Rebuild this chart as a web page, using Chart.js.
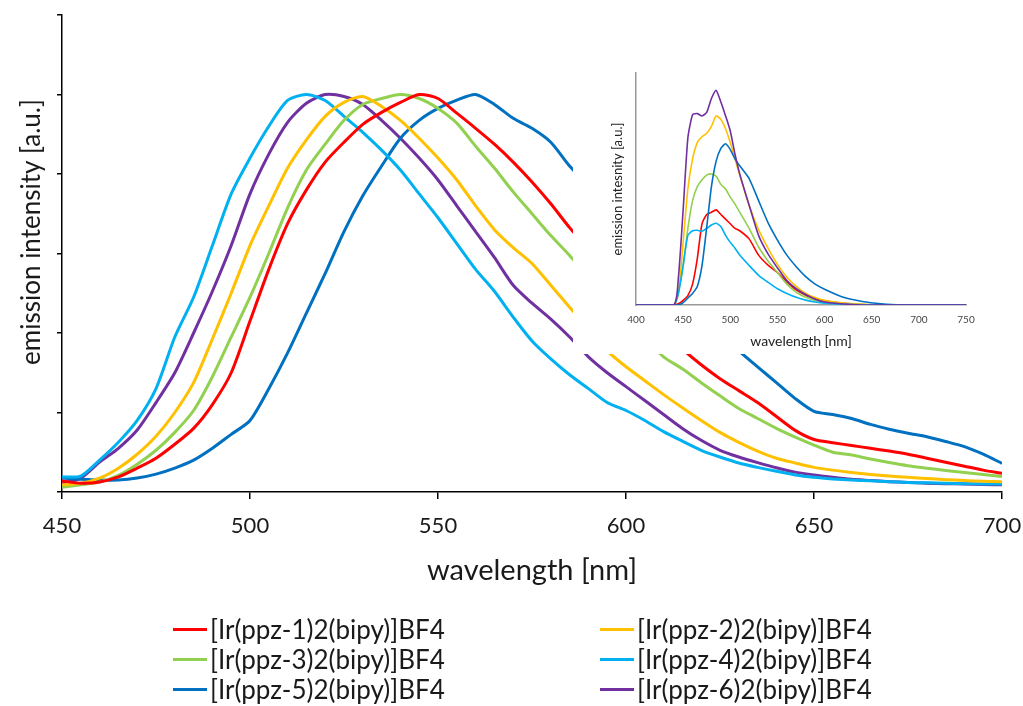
<!DOCTYPE html>
<html>
<head>
<meta charset="utf-8">
<script src="https://cdn.jsdelivr.net/npm/chart.js@4.4.0/dist/chart.umd.min.js"></script>
<style>
  html, body { margin: 0; padding: 0; background: #fff; }
  #wrap { position: relative; width: 1023px; height: 706px; overflow: hidden; font-family: Lato, sans-serif; }
  #main { position: absolute; left: 0; top: 0; }
  #insetBox { position: absolute; left: 573px; top: 50px; width: 437px; height: 304px; background: #fff; }
  .leg { position: absolute; height: 30px; display: flex; align-items: center; font-size: 26px; color: #1a1a1a; white-space: nowrap; }
  .leg i { display: inline-block; width: 34px; height: 3px; margin-right: 3px; }
</style>
</head>
<body>
<div id="wrap">
  <canvas id="main" width="1023" height="706"></canvas>
  <div id="insetBox"><canvas id="inset" width="437" height="304"></canvas></div>
  <div id="legend"></div>
</div>
<script>
// emission spectra, normalised (main plot)
const wavelengths = [450,455,460,465,470,475,480,485,490,495,500,505,510,515,520,525,530,535,540,545,550,
  555,560,565,570,575,580,585,590,595,600,605,610,615,620,625,630,635,640,645,650,655,660,665,670,675,680,685,690,695,700];

const ppz1 = [0.028,0.022,0.025,0.038,0.06,0.085,0.12,0.16,0.22,0.3,0.43,0.56,0.675,0.76,0.83,0.88,0.925,0.955,0.98,1.0,0.99,
  0.953,0.915,0.875,0.83,0.78,0.725,0.665,0.61,0.56,0.51,0.46,0.41,0.36,0.32,0.285,0.255,0.225,0.19,0.155,0.132,0.124,0.117,0.11,0.103,0.095,0.085,0.075,0.065,0.055,0.047];
const ppz2 = [0.018,0.022,0.035,0.06,0.095,0.14,0.2,0.275,0.385,0.5,0.62,0.72,0.815,0.886,0.945,0.98,0.995,0.97,0.935,0.89,0.84,
  0.785,0.72,0.66,0.615,0.575,0.52,0.465,0.41,0.355,0.315,0.28,0.245,0.212,0.18,0.15,0.125,0.103,0.085,0.073,0.062,0.055,0.049,0.044,0.04,0.037,0.034,0.031,0.029,0.027,0.026];
const ppz3 = [0.012,0.018,0.025,0.042,0.07,0.105,0.15,0.205,0.29,0.39,0.49,0.6,0.715,0.81,0.875,0.935,0.975,0.99,1.0,0.99,0.965,
  0.928,0.87,0.815,0.755,0.7,0.645,0.595,0.54,0.49,0.44,0.39,0.34,0.31,0.275,0.242,0.21,0.185,0.16,0.138,0.118,0.1,0.093,0.083,0.074,0.066,0.06,0.054,0.049,0.044,0.039];
const ppz4 = [0.038,0.04,0.08,0.125,0.18,0.26,0.39,0.49,0.62,0.75,0.84,0.92,0.985,1.0,0.985,0.945,0.905,0.86,0.81,0.75,0.69,
  0.625,0.56,0.505,0.44,0.38,0.335,0.295,0.26,0.225,0.205,0.18,0.152,0.128,0.105,0.088,0.073,0.062,0.052,0.043,0.037,0.033,0.03,0.028,0.026,0.024,0.023,0.022,0.021,0.02,0.02];
const ppz5 = [0.035,0.032,0.03,0.03,0.035,0.045,0.06,0.08,0.11,0.145,0.18,0.26,0.35,0.45,0.55,0.655,0.745,0.82,0.89,0.935,0.965,
  0.986,1.0,0.975,0.94,0.915,0.88,0.82,0.77,0.72,0.67,0.62,0.56,0.5,0.45,0.4,0.355,0.315,0.275,0.235,0.203,0.195,0.185,0.17,0.158,0.148,0.139,0.127,0.114,0.095,0.072];
const ppz6 = [0.022,0.035,0.075,0.11,0.156,0.225,0.3,0.4,0.505,0.62,0.75,0.85,0.93,0.978,1.0,0.995,0.975,0.935,0.89,0.84,0.785,
  0.72,0.655,0.59,0.52,0.475,0.435,0.39,0.34,0.3,0.265,0.23,0.195,0.16,0.13,0.105,0.088,0.074,0.061,0.05,0.043,0.037,0.032,0.029,0.026,0.024,0.022,0.021,0.02,0.019,0.018];

// inset: non-normalised spectra
const insetWavelengths = [400,440,445,450,455,460,465,470,475,480,485,490,495,500,505,510,520,530,540,550,560,570,580,590,600,620,640,660,680,750];
const inset1 = [0,0,0.005,0.02,0.04,0.09,0.2,0.35,0.39,0.4,0.41,0.39,0.37,0.35,0.33,0.32,0.285,0.215,0.172,0.14,0.1,0.065,0.042,0.028,0.018,0.007,0.002,0,0,0];
const inset2 = [0,0,0.05,0.27,0.5,0.63,0.7,0.725,0.74,0.77,0.815,0.8,0.76,0.7,0.63,0.56,0.43,0.325,0.245,0.175,0.12,0.08,0.05,0.032,0.02,0.008,0.003,0,0,0];
const inset3 = [0,0,0.06,0.17,0.33,0.45,0.51,0.54,0.56,0.565,0.555,0.52,0.5,0.465,0.435,0.4,0.33,0.25,0.19,0.14,0.09,0.055,0.033,0.02,0.012,0.005,0.002,0,0,0];
const inset4 = [0,0,0.05,0.17,0.3,0.32,0.322,0.318,0.33,0.345,0.352,0.338,0.3,0.27,0.245,0.215,0.17,0.128,0.098,0.07,0.05,0.033,0.021,0.013,0.008,0.003,0,0,0,0];
const inset5 = [0,0,0,0.01,0.03,0.05,0.08,0.17,0.335,0.51,0.62,0.675,0.695,0.67,0.63,0.6,0.545,0.45,0.355,0.28,0.215,0.165,0.122,0.09,0.068,0.033,0.015,0.005,0,0];
const inset6 = [0,0,0.12,0.41,0.72,0.82,0.825,0.815,0.83,0.89,0.925,0.875,0.815,0.75,0.65,0.565,0.43,0.3,0.22,0.16,0.105,0.07,0.045,0.025,0.013,0.004,0,0,0,0];

const seriesNames = ['[Ir(ppz-1)2(bipy)]BF4','[Ir(ppz-2)2(bipy)]BF4','[Ir(ppz-3)2(bipy)]BF4',
  '[Ir(ppz-4)2(bipy)]BF4','[Ir(ppz-5)2(bipy)]BF4','[Ir(ppz-6)2(bipy)]BF4'];
const xTicks = [450, 500, 550, 600, 650, 700];
const insetTicks = [400, 450, 500, 550, 600, 650, 700, 750];

const colors = ['#ff0000', '#ffc000', '#92d050', '#00b0f0', '#0070c0', '#7030a0'];
const FONT = 'Lato, sans-serif';

function toPoints(xs, ys) {
    return ys.map((v, i) => ({x: xs[i], y: v}));
}

const mainSeries = [ppz1, ppz2, ppz3, ppz4, ppz5, ppz6];
const insetSeries = [inset1, inset2, inset3, inset4, inset5, inset6];

// y title sits a bit above the plot centre in the original, so draw it by hand
const yTitlePlugin = {
    id: 'yTitle',
    afterDraw(chart) {
        let ctx = chart.ctx;
        ctx.save();
        ctx.translate(32, 232);
        ctx.rotate(-Math.PI / 2);
        ctx.font = '26px ' + FONT;
        ctx.fillStyle = '#1a1a1a';
        ctx.textAlign = 'center';
        ctx.textBaseline = 'middle';
        ctx.fillText('emission intensity [a.u.]', 0, 0);
        ctx.restore();
    }
};

new Chart(document.getElementById('main'), {
    type: 'line',
    data: {
        datasets: mainSeries.map((s, i) => ({
            label: seriesNames[i],
            data: toPoints(wavelengths, s),
            borderColor: colors[i],
            borderWidth: 3,
            pointRadius: 0,
            tension: 0.25,
            fill: false
        }))
    },
    options: {
        responsive: false,
        animation: false,
        devicePixelRatio: 1,
        layout: {padding: {left: 0, top: 15, right: 21, bottom: 118}},
        plugins: {legend: {display: false}, tooltip: {enabled: false}},
        scales: {
            x: {
                type: 'linear', min: 450, max: 700,
                afterBuildTicks: (sc) => { sc.ticks = xTicks.map(v => ({value: v})); },
                afterFit: (sc) => { sc.height = 96; sc.paddingLeft = 0; sc.paddingRight = 0; },
                border: {display: true, color: '#000', width: 1.5},
                grid: {display: true, drawOnChartArea: false, drawTicks: true, tickLength: 7, color: '#000', lineWidth: 1.5},
                ticks: {font: {family: FONT, size: 22}, color: '#1a1a1a', padding: 14, maxRotation: 0},
                title: {display: true, text: 'wavelength [nm]', font: {family: FONT, size: 29}, color: '#1a1a1a', padding: {top: 0, bottom: 0}}
            },
            y: {
                min: 0, max: 1.2,
                ticks: {display: false, stepSize: 0.2},
                afterFit: (sc) => { sc.width = 62; },
                border: {display: true, color: '#000', width: 1.5},
                grid: {display: true, drawOnChartArea: false, drawTicks: true, tickLength: 5, color: '#000', lineWidth: 1.5}
            }
        }
    },
    plugins: [yTitlePlugin]
});

new Chart(document.getElementById('inset'), {
    type: 'line',
    data: {
        datasets: insetSeries.map((s, i) => ({
            label: seriesNames[i],
            data: toPoints(insetWavelengths, s),
            borderColor: colors[i],
            borderWidth: 1.6,
            pointRadius: 0,
            tension: 0.2,
            fill: false,
            order: 6 - i
        }))
    },
    options: {
        responsive: false,
        animation: false,
        devicePixelRatio: 1,
        layout: {padding: {left: 0, top: 23, right: 44, bottom: 0}},
        plugins: {legend: {display: false}, tooltip: {enabled: false}},
        scales: {
            x: {
                type: 'linear', min: 400, max: 750,
                afterBuildTicks: (sc) => { sc.ticks = insetTicks.map(v => ({value: v})); },
                afterFit: (sc) => { sc.height = 49; },
                border: {display: true, color: '#999', width: 1.5},
                grid: {display: false, drawTicks: false},
                ticks: {font: {family: FONT, size: 10}, color: '#444', padding: 9, maxRotation: 0},
                title: {display: true, text: 'wavelength [nm]', font: {family: FONT, size: 14}, color: '#222', padding: {top: 0, bottom: 4}}
            },
            y: {
                min: 0, max: 1.0,
                ticks: {display: false},
                afterFit: (sc) => { sc.width = 63; },
                border: {display: true, color: '#999', width: 1.5},
                grid: {display: false, drawTicks: false},
                title: {display: true, text: 'emission intesnity [a.u.]', font: {family: FONT, size: 13}, color: '#222', padding: {top: 37, bottom: 0}}
            }
        }
    }
});

// two-column legend below the plot
const legendCols = [173, 600];
const legendRows = [614, 644, 674];
const legend = document.getElementById('legend');
seriesNames.forEach((name, i) => {
    let el = document.createElement('div');
    el.className = 'leg';
    el.style.left = legendCols[i % 2] + 'px';
    el.style.top = legendRows[Math.floor(i / 2)] + 'px';
    el.innerHTML = '<i style="background:' + colors[i] + '"></i>' + name;
    legend.appendChild(el);
});
</script>
</body>
</html>
